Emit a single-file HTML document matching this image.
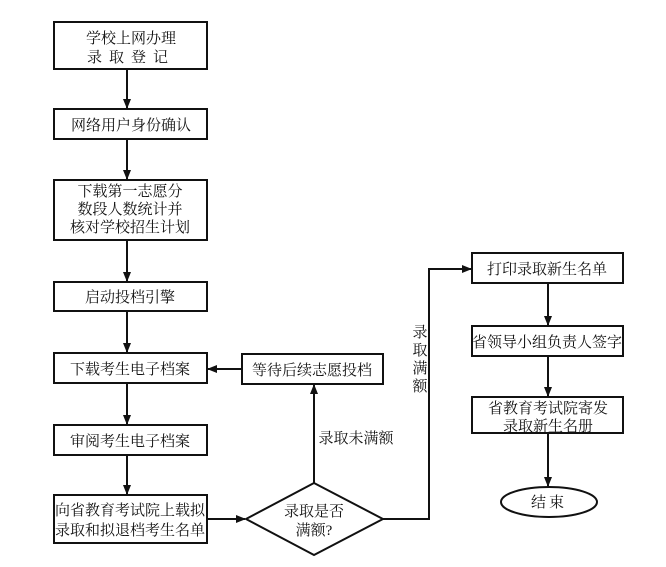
<!DOCTYPE html>
<html><head><meta charset="utf-8"><style>
body{margin:0;background:#fff;}
svg text{font-family:"Liberation Serif","Noto Serif CJK SC",serif;font-size:15px;fill:#111;text-anchor:middle;}
</style></head><body>
<svg width="666" height="562" xmlns="http://www.w3.org/2000/svg">
<defs><marker id="a" markerWidth="10" markerHeight="8" refX="9" refY="4" orient="auto" markerUnits="userSpaceOnUse"><path d="M0,0L10,4L0,8z" fill="#111"/></marker></defs>
<g fill="none" stroke="#111" stroke-width="2">
<rect x="54" y="22" width="153" height="47"/>
<rect x="54" y="109" width="153" height="30"/>
<rect x="54" y="180" width="153" height="60"/>
<rect x="54" y="282" width="153" height="29"/>
<rect x="54" y="353" width="153" height="30"/>
<rect x="54" y="425" width="153" height="30"/>
<rect x="54" y="495" width="153" height="48"/>
<rect x="242" y="354" width="141" height="30"/>
<polygon points="314,483 383,519 314,555 246,519"/>
<rect x="472" y="253" width="151" height="30"/>
<rect x="472" y="326" width="151" height="30"/>
<rect x="472" y="397" width="151" height="36"/>
<ellipse cx="549" cy="502" rx="48" ry="15"/>
</g>
<g stroke="#111" stroke-width="2" fill="none" marker-end="url(#a)">
<line x1="127" y1="69" x2="127" y2="108"/>
<line x1="127" y1="139" x2="127" y2="179"/>
<line x1="127" y1="240" x2="127" y2="281"/>
<line x1="127" y1="311" x2="127" y2="352"/>
<line x1="127" y1="383" x2="127" y2="424"/>
<line x1="127" y1="455" x2="127" y2="494"/>
<line x1="207" y1="519" x2="245" y2="519"/>
<line x1="242" y1="369" x2="208" y2="369"/>
<line x1="314" y1="483" x2="314" y2="385"/>
<polyline points="383,519 429,519 429,269 471,269"/>
<line x1="548" y1="283" x2="548" y2="325"/>
<line x1="548" y1="356" x2="548" y2="396"/>
<line x1="548" y1="433" x2="548" y2="486"/>
</g>
<text x="131" y="43">学校上网办理</text>
<text x="131" y="62" style="letter-spacing:7px">录取登记</text>
<text x="131" y="130">网络用户身份确认</text>
<text x="130" y="196">下载第一志愿分</text>
<text x="130" y="214">数段人数统计并</text>
<text x="130" y="232">核对学校招生计划</text>
<text x="130" y="302">启动投档引擎</text>
<text x="130" y="374">下载考生电子档案</text>
<text x="130" y="446">审阅考生电子档案</text>
<text x="130" y="515">向省教育考试院上载拟</text>
<text x="130" y="535">录取和拟退档考生名单</text>
<text x="312" y="375">等待后续志愿投档</text>
<text x="356" y="443">录取未满额</text>
<text x="314" y="516">录取是否</text>
<text x="314" y="535">满额?</text>
<text x="420" y="337">录</text>
<text x="420" y="355">取</text>
<text x="420" y="373">满</text>
<text x="420" y="391">额</text>
<text x="547" y="274">打印录取新生名单</text>
<text x="547" y="347">省领导小组负责人签字</text>
<text x="548" y="413">省教育考试院寄发</text>
<text x="548" y="431">录取新生名册</text>
<text x="549" y="507" style="letter-spacing:3px">结束</text>
</svg>
</body></html>
